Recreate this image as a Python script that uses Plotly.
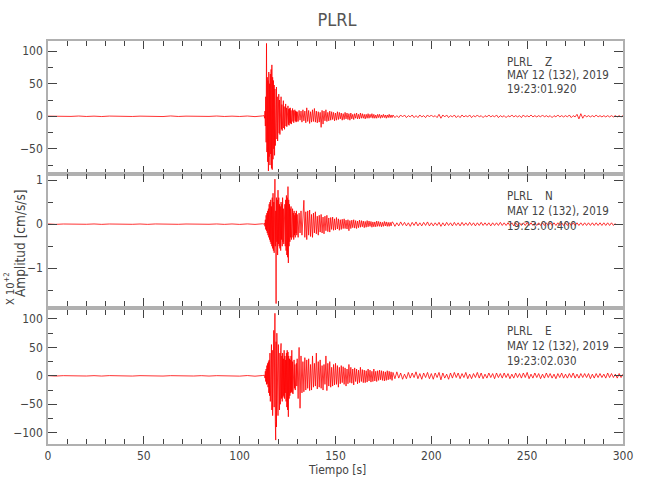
import numpy as np
import plotly.graph_objects as go

# ---------------- data ----------------
# each trace is built from four segments of regularly sampled values
SEG_START = [0.0, 112.8, 130.0, 180.0]
SEG_STEP = [4.0, 0.2, 0.5, 1.0]

# Z component (cm/s/s)
Z_PRE = [0.2, -0.3, 0.3, -0.2, 0.4, -0.3, 0.2, -0.4, 0.3, -0.2, 0.3, -0.3, 0.2, -0.2, 0.3,
         -0.4, 0.5, -0.3, 0.2, -0.3, 0.3, -0.2, 0.4, -0.3, 0.2, -0.3, 0.4, -0.5, 0.6]
Z_BURST = [1, -3, 8, -15, 30, -40, 112, -55, 60, -70, 55, -84, 68, -62, 50, -75, 65, -58, 72, -80,
           79, -82, 60, -66, 55, -50, 48, -60, 42, -45, 38, -40, 45, -35, 30, -38, 28, -30, 34, -26,
           25, -28, 22, -24, 30, -20, 18, -22, 20, -17, 24, -18, 15, -20, 17, -14, 19, -15, 13, -16,
           14, -12, 16, -13, 11, -14, 12, -10, 13, -11, 9, -12, 10, -9, 12, -8, 9, -10, 8, -9,
           10, -7, 8, -9, 7, -8]
Z_CODA = [7, -8, 9, -6, 8, -9, 10, -7, 8, -10, 13, -8, 9, -11, 7, -9, 10, -8, 12, -9,
          8, -10, 7, -9, 6, -17, 9, -12, 8, -7, 10, -8, 6, -7, 8, -6, 7, -5, 6, -7,
          5, -6, 7, -5, 6, -4, 5, -6, 4, -5, 6, -4, 5, -5, 4, -6, 5, -4, 3, -5,
          4, -3, 5, -4, 3, -4, 5, -3, 4, -3, 3, -4, 3, -3, 4, -3, 3, -2, 4, -3,
          3, -3, 2, -3, 3, -2, 3, -3, 2, -2, 3, -2, 2, -3, 2, -2, 3, -2, 2, -2]
Z_TAIL = [2, -2, 1, -2, 2, -1, 2, -2, 1, -1, 2, -2, 1, -2, 2, -1, 1, -2, 2, -1,
          2, -1, 1, -2, 3, -3, 2, -1, 2, -2, 1, -1, 2, -2, 1, -2, 2, -1, 1, -1,
          2, -2, 1, -1, 2, -1, 1, -2, 1, -1, 2, -1, 1, -1, 2, -2, 1, -1, 1, -2,
          1, -1, 2, -1, 1, -1, 1, -2, 2, -1, 1, -1, 2, -1, 1, -1, 1, -1, 2, -1,
          1, -1, 1, -2, 1, -1, 2, -1, 1, -1, 1, -1, 2, -2, 1, -1, 3, -4, 4, -3,
          2, -1, 1, -1, 1, -1, 2, -1, 1, -1, 1, -1, 1, -1, 1, -1, 1, -1, 1, -1, 1]

# N component (x 10^2 cm/s/s)
N_PRE = [0.004, -0.005, 0.003, -0.004, 0.005, -0.003, 0.004, -0.005, 0.003, -0.004, 0.005, -0.004,
         0.003, -0.005, 0.004, -0.003, 0.005, -0.004, 0.003, -0.004, 0.005, -0.003, 0.004, -0.005,
         0.004, -0.006, 0.005, -0.006, 0.008]
N_BURST = [0.0, 0.02, -0.05, 0.1, -0.12, 0.2, -0.15, 0.25, -0.2, 0.3, -0.25, 0.35, -0.3, 0.45, -0.35,
           0.5, -0.4, 0.55, -0.45, 0.4, -0.5, 0.6, -0.55, 0.7, -0.6, 0.5, -0.65, 0.75, 1.02, -0.5,
           0.3, -1.8, 0.6, -0.4, 0.55, -0.7, 0.77, -0.45, 0.6, -0.5, 0.45, -0.55, 0.4, -0.6, 0.5,
           -0.35, 0.45, -0.5, 0.6, -0.4, 0.35, -0.45, 0.4, -0.3, 0.45, -0.5, 0.55, -0.6, 0.65, -0.7,
           0.6, -0.75, 0.85, -0.88, 0.55, -0.5, 0.45, -0.4, 0.35, -0.3, 0.4, -0.35, 0.3, -0.25, 0.35,
           -0.3, 0.25, -0.35, 0.3, -0.25, 0.2, -0.3, 0.25, -0.2, 0.3, -0.25]
N_CODA = [0.22, -0.3, 0.25, -0.2, 0.3, -0.25, 0.35, 0.54, -0.3, 0.28, -0.35, 0.3, -0.25, 0.32, -0.28,
          0.22, -0.3, 0.25, -0.2, 0.28, -0.22, 0.18, -0.25, 0.2, -0.18, 0.22, -0.2, 0.16, -0.22, 0.18,
          -0.15, 0.2, -0.17, 0.14, -0.18, 0.15, -0.12, 0.16, -0.14, 0.12, -0.13, 0.15, -0.11, 0.12, -0.14,
          0.1, -0.12, 0.11, -0.1, 0.12, -0.1, 0.09, -0.11, 0.1, -0.15, 0.08, -0.1, 0.09, -0.08, 0.1,
          -0.09, 0.08, -0.1, 0.07, -0.08, 0.09, -0.07, 0.08, -0.06, 0.07, -0.08, 0.06, -0.07, 0.08, -0.06,
          0.07, -0.05, 0.06, -0.07, 0.05, -0.06, 0.05, -0.06, 0.07, -0.05, 0.06, -0.05, 0.05, -0.06, 0.04,
          -0.05, 0.06, -0.04, 0.05, -0.05, 0.04, -0.05, 0.04, -0.04, 0.05]
N_TAIL = [0.04, -0.05, 0.03, -0.04, 0.05, -0.03, 0.04, -0.04, 0.03, -0.05, 0.04, -0.03, 0.05, -0.04, 0.03,
          -0.04, 0.04, -0.03, 0.05, -0.04, 0.03, -0.04, 0.03, -0.03, 0.04, -0.05, 0.03, -0.04, 0.04, -0.03,
          0.03, -0.04, 0.04, -0.03, 0.03, -0.04, 0.04, -0.03, 0.03, -0.03, 0.04, -0.03, 0.03, -0.04, 0.03,
          -0.03, 0.04, -0.03, 0.03, -0.03, 0.03, -0.04, 0.03, -0.03, 0.03, -0.03, 0.04, -0.03, 0.03, -0.03,
          0.03, -0.03, 0.03, -0.04, 0.03, -0.03, 0.03, -0.03, 0.03, -0.03, 0.04, -0.03, 0.03, -0.03, 0.03,
          -0.03, 0.03, -0.03, 0.03, -0.03, 0.03, -0.03, 0.03, -0.03, 0.03, -0.03, 0.03, -0.03, 0.03, -0.03,
          0.03, -0.03, 0.03, -0.03, 0.03, -0.03, 0.03, -0.03, 0.03, -0.03, 0.03, -0.03, 0.03, -0.03, 0.03,
          -0.03, 0.03, -0.03, 0.03, -0.03, 0.03, -0.03, 0.03, -0.03, 0.03, -0.03, 0.02]

# E component (cm/s/s)
E_PRE = [0.3, -0.4, 0.3, -0.3, 0.4, -0.3, 0.3, -0.4, 0.4, -0.3, 0.3, -0.4, 0.3, -0.3, 0.4,
         -0.4, 0.3, -0.3, 0.4, -0.3, 0.3, -0.4, 0.3, -0.3, 0.4, -0.5, 0.5, -0.6, 0.6]
E_BURST = [0, 1, -4, 8, -10, 12, -15, 18, -14, 22, -20, 25, -30, 28, -35, 40, -45, 50, -40, 55,
           -60, 45, -70, 60, -50, 80, -55, 70, 110, -80, -113, 60, -90, 75, -60, 50, -70, 55, -45, 48,
           -60, 40, -50, 45, 57, -40, 35, -45, 40, -38, 30, -35, 45, -40, 35, -30, 28, -45, 40, -55,
           45, -60, 42, -72, 35, -40, 30, -35, 28, -30, 35, -28, 45, -30, 25, -32, 22, -25, 28, -22,
           20, -25, 18, -20, 22, -18]
E_CODA = [30, -40, 50, -57, 35, -30, 25, -28, 32, -25, 28, -22, 30, -26, 20, -25, 35, -20, 22, -18,
          40, -23, 25, -20, 28, -22, 18, -25, 20, -15, 35, -26, 22, -18, 25, -20, 15, -18, 20, -16,
          22, -15, 18, -20, 15, -14, 18, -12, 16, -15, 14, -18, 12, -14, 20, -12, 15, -13, 12, -16,
          14, -10, 12, -14, 10, -12, 15, -10, 11, -12, 10, -12, 9, -11, 12, -9, 10, -11, 8, -10,
          12, -9, 8, -10, 9, -8, 10, -7, 9, -8, 8, -9, 7, -8, 9, -7, 8, -6, 7, -8]
E_TAIL = [6, -5, 7, -4, 5, -6, 3, -5, 6, -4, 5, -3, 7, -5, 4, -6, 5, -3, 6, -5,
          4, -6, 5, -3, 6, -7, 5, -4, 3, -6, 5, -4, 6, -3, 5, -5, 4, -3, 6, -5,
          3, -5, 4, -3, 6, -4, 5, -5, 3, -4, 5, -3, 4, -5, 5, -3, 4, -4, 5, -3,
          4, -5, 3, -4, 5, -3, 4, -4, 5, -3, 6, -5, 3, -4, 5, -3, 4, -5, 3, -4,
          5, -3, 4, -4, 3, -5, 4, -3, 5, -4, 3, -4, 4, -3, 5, -4, 3, -4, 4, -3,
          4, -3, 4, -5, 3, -4, 4, -3, 4, -3, 3, -4, 5, -3, 4, -3, 3, -4, 4, -3, 3]

STATION = "PLRL"
COMPONENTS = ["Z", "N", "E"]
DATE_TEXT = "MAY 12 (132), 2019"
START_TIMES = ["19:23:01.920", "19:23:00.400", "19:23:02.030"]
X_TICKS = [0, 50, 100, 150, 200, 250, 300]


def build(segments):
    ts, vs = [], []
    for start, step, vals in zip(SEG_START, SEG_STEP, segments):
        ts.append(start + step * np.arange(len(vals)))
        vs.append(np.asarray(vals, dtype=float))
    return np.concatenate(ts), np.concatenate(vs)


traces = [build([Z_PRE, Z_BURST, Z_CODA, Z_TAIL]),
          build([N_PRE, N_BURST, N_CODA, N_TAIL]),
          build([E_PRE, E_BURST, E_CODA, E_TAIL])]

# ---------------- figure ----------------
W, H = 650, 500
ML, MR, MT, MB = 48, 27, 41, 56
PH = H - MT - MB
PW = W - ML - MR


def py(pix):
    return (H - MB - pix) / PH


def px(pix):
    return (pix - ML) / PW


domains = [[py(174), 1.0], [py(306), py(174)], [0.0, py(310)]]
yranges = [[-88.7, 115.7], [-1.855, 1.136], [-119.9, 115.8]]
ydticks = [50, 1, 50]
yminor = [25, 0.5, 25]

FONT = "DejaVu Sans Condensed, Liberation Sans Narrow, Roboto Condensed, sans-serif"
FRAME = "#b0b0b0"
TICKC = "#444444"
TXT = "#444444"

fig = go.Figure()
for i, (t, v) in enumerate(traces):
    fig.add_trace(go.Scatter(x=t, y=v, mode="lines", line=dict(color="red", width=0.8),
                             xaxis=f"x{i+1}" if i else "x", yaxis=f"y{i+1}" if i else "y",
                             showlegend=False, hoverinfo="skip"))

layout = dict(width=W, height=H, margin=dict(l=ML, r=MR, t=MT, b=MB, autoexpand=False),
              paper_bgcolor="white", plot_bgcolor="white",
              font=dict(family=FONT, color=TXT, size=12),
              title=dict(text=STATION, x=337 / W, xanchor="center", y=1 - 20 / H, yanchor="middle",
                         font=dict(size=18, color="#555555"), automargin=False),
              showlegend=False)

for i in range(3):
    xk = "xaxis" if i == 0 else f"xaxis{i+1}"
    yk = "yaxis" if i == 0 else f"yaxis{i+1}"
    ya = "y" if i == 0 else f"y{i+1}"
    xa = "x" if i == 0 else f"x{i+1}"
    layout[xk] = dict(domain=[0, 1], anchor=ya, range=[0, 300], tickmode="array", tickvals=X_TICKS,
                      showticklabels=(i == 2), ticks="inside", ticklen=8, tickcolor=TICKC, tickwidth=1,
                      minor=dict(dtick=10, ticks="inside", ticklen=5, tickcolor=TICKC, tickwidth=1),
                      showline=True, linecolor=FRAME, linewidth=1.5, mirror="allticks",
                      showgrid=False, zeroline=False, tickfont=dict(size=12), automargin=False)
    if i > 0:
        layout[xk]["matches"] = "x"
    layout[yk] = dict(domain=domains[i], anchor=xa, range=yranges[i], dtick=ydticks[i], tick0=0,
                      ticks="inside", ticklen=9, tickcolor=TICKC, tickwidth=1,
                      minor=dict(dtick=yminor[i], tick0=0, ticks="inside", ticklen=5, tickcolor=TICKC,
                                 tickwidth=1),
                      showline=True, linecolor=FRAME, linewidth=1.5, mirror="allticks",
                      showgrid=False, zeroline=False, tickfont=dict(size=12), ticklabelstandoff=1,
                      automargin=False)

fig.update_layout(**layout)

# station labels inside each panel
label_rows = [[62, 75, 89], [196, 211, 226], [331, 346, 361]]
for i in range(3):
    lines = [f"{STATION}    {COMPONENTS[i]}", DATE_TEXT, START_TIMES[i]]
    for txt, ypix in zip(lines, label_rows[i]):
        fig.add_annotation(text=txt, xref="paper", yref="paper", x=px(505), y=py(ypix),
                           xanchor="left", yanchor="middle", showarrow=False,
                           font=dict(size=11.5, color=TXT, family=FONT))

# axis titles and scale factor
fig.add_annotation(text="Tiempo [s]", xref="paper", yref="paper", x=px(337), y=py(470),
                   xanchor="center", yanchor="middle", showarrow=False,
                   font=dict(size=12, color=TXT, family=FONT))
fig.add_annotation(text="Amplitud [cm/s/s]", xref="paper", yref="paper", x=px(20), y=py(244),
                   xanchor="center", yanchor="middle", textangle=-90, showarrow=False,
                   font=dict(size=13.5, color=TXT, family=FONT))
fig.add_annotation(text="X 10<sup>+2</sup>", xref="paper", yref="paper", x=px(9), y=py(289),
                   xanchor="center", yanchor="middle", textangle=-90, showarrow=False,
                   font=dict(size=11, color=TXT, family=FONT))

# the page body has a default margin; remove it so the figure sits at the window origin
fig.write_html("out.html", config={"displayModeBar": False},
               post_script="document.body.style.margin='0';")
